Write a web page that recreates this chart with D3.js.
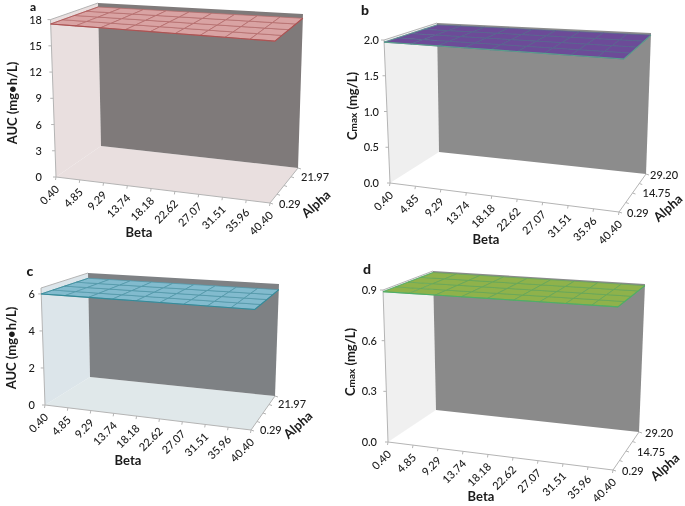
<!DOCTYPE html>
<html>
<head>
<meta charset="utf-8">
<script src="https://cdn.jsdelivr.net/npm/d3@7"></script>
<style>
html,body{margin:0;padding:0;background:#fff}
svg{display:block}
text{font-family:Lato,"Open Sans",sans-serif;fill:#1a1a1a}
</style>
</head>
<body>
<svg id="chart" width="685" height="506"></svg>
<script>
// ---- Data ----
const betaLabels = ["0.40","4.85","9.29","13.74","18.18","22.62","27.07","31.51","35.96","40.40"];
const alphaShort = ["0.29","5.71","11.13","16.55","21.97"];
const alphaLong  = ["0.29","7.52","14.75","21.97","29.20"];
const alphaShortLabels = ["0.29","21.97"];
const alphaLongLabels  = ["0.29","14.75","29.20"];
const ticksAuc18 = [0,3,6,9,12,15,18];
const ticksCmax2 = [0,0.5,1,1.5,2];
const ticksAuc6  = [0,2,4,6];
const ticksCmax09 = [0,0.3,0.6,0.9];
const surfaceA = [
 [17.5,17.5,17.5,17.5,17.5,17.5,17.5,17.5,17.5,17.5],
 [17.5,17.5,17.5,17.5,17.5,17.5,17.5,17.5,17.5,17.5],
 [17.5,17.5,17.5,17.5,17.5,17.5,17.5,17.5,17.5,17.5],
 [17.5,17.5,17.5,17.5,17.5,17.5,17.5,17.5,17.5,17.5],
 [17.5,17.5,17.5,17.5,17.5,17.5,17.5,17.5,17.5,17.5]];
const surfaceB = [
 [1.97,1.97,1.97,1.97,1.97,1.97,1.97,1.97,1.97,1.97],
 [1.97,1.97,1.97,1.97,1.97,1.97,1.97,1.97,1.97,1.97],
 [1.97,1.97,1.97,1.97,1.97,1.97,1.97,1.97,1.97,1.97],
 [1.97,1.97,1.97,1.97,1.97,1.97,1.97,1.97,1.97,1.97],
 [1.97,1.97,1.97,1.97,1.97,1.97,1.97,1.97,1.97,1.97]];
const surfaceC = [
 [6,6,6,6,6,6,6,6,6,6],
 [6,6,6,6,6,6,6,6,6,6],
 [6,6,6,6,6,6,6,6,6,6],
 [6,6,6,6,6,6,6,6,6,6],
 [6,6,6,6,6,6,6,6,6,6]];
const surfaceD = [
 [0.89,0.89,0.89,0.89,0.89,0.89,0.89,0.89,0.89,0.89],
 [0.89,0.89,0.89,0.89,0.89,0.89,0.89,0.89,0.89,0.89],
 [0.89,0.89,0.89,0.89,0.89,0.89,0.89,0.89,0.89,0.89],
 [0.89,0.89,0.89,0.89,0.89,0.89,0.89,0.89,0.89,0.89],
 [0.89,0.89,0.89,0.89,0.89,0.89,0.89,0.89,0.89,0.89]];

// ---- Layout of each panel ----
const panels = [
 {letter:"a", letterAt:[33,11], alpha:alphaShort, alphaLabels:alphaShortLabels, surface:surfaceA, ticks:ticksAuc18, zMax:18, fmt:d3.format("d"),
  floor:{fl:[56,177],fr:[270,203],br:[298,168],bl:[101,146]}, top:{fl:[50.5,19.6],fr:[275,36.5],br:[303,14],bl:[98,3]},
  tickRight:42, title:"auc", titleAt:[17,103], betaAt:[139,232], alphaAt:[316,204], alphaOff:[[9,1],[3,9]],
  side:"#e9dfdf", floorC:"#e9dfdf", wall:"#7f7a7a", fill:"#d9a3a3", grid:"#b56a6a", edge:"#ac5252"},
 {letter:"b", letterAt:[365,15], alpha:alphaLong, alphaLabels:alphaLongLabels, surface:surfaceB, ticks:ticksCmax2, zMax:2, fmt:d3.format(".1f"),
  floor:{fl:[390,183],fr:[619,212],br:[646,174],bl:[439,152]}, top:{fl:[384,40],fr:[624,56.7],br:[651,33],bl:[437,23]},
  tickRight:379, title:"cmax", titleAt:[357,106], betaAt:[486,239], alphaAt:[668,208], alphaOff:[[8,1],[10,0],[4,1]],
  side:"#efefef", floorC:"#ffffff", wall:"#8c8c8c", fill:"#6c4b98", grid:"#56688f", edge:"#5a9f8c"},
 {letter:"c", letterAt:[30,276], alpha:alphaShort, alphaLabels:alphaShortLabels, surface:surfaceC, ticks:ticksAuc6, zMax:6.32, fmt:d3.format("d"),
  floor:{fl:[45,405],fr:[251,430],br:[275,396],bl:[90,377]}, top:{fl:[41,288],fr:[255,303],br:[279,284],bl:[88,273]},
  tickRight:35, title:"auc", titleAt:[16,348], betaAt:[128,460], alphaAt:[298,425], alphaOff:[[9,0],[3,8]],
  side:"#dce5ea", floorC:"#e0e8ea", wall:"#7e8184", fill:"#82bbce", grid:"#4f97a8", edge:"#358a98"},
 {letter:"d", letterAt:[367,274], alpha:alphaLong, alphaLabels:alphaLongLabels, surface:surfaceD, ticks:ticksCmax09, zMax:0.9, fmt:d3.format(".1f"),
  floor:{fl:[388,442],fr:[613,470],br:[639,432],bl:[436,410]}, top:{fl:[383,290],fr:[618,305],br:[645,284],bl:[433,271]},
  tickRight:377, title:"cmax", titleAt:[355,362], betaAt:[481,496], alphaAt:[665,467], alphaOff:[[9,1],[11,1],[6,1]],
  side:"#f0f0f0", floorC:"#ffffff", wall:"#8a8a8a", fill:"#8fb24c", grid:"#63a85a", edge:"#4fae68"}
];

const svg = d3.select("#chart");
const defs = svg.append("defs");
defs.append("filter").attr("id","soft").attr("x","-5%").attr("y","-5%").attr("width","110%").attr("height","110%")
  .append("feGaussianBlur").attr("stdDeviation",0.5);
defs.append("filter").attr("id","softText")
  .append("feGaussianBlur").attr("stdDeviation",0.3);

const lerp = (a,b,t)=>[a[0]+(b[0]-a[0])*t, a[1]+(b[1]-a[1])*t];
const poly = d3.line();

panels.forEach(p=>{
  const beta = d3.scalePoint(betaLabels,[0,1]);
  const alpha = d3.scalePoint(p.alpha,[0,1]);
  const z = d3.scaleLinear([0,p.zMax],[0,1]);
  const at = (c,u,v)=>lerp(lerp(c.fl,c.fr,u),lerp(c.bl,c.br,u),v);
  const project = (u,v,w)=>lerp(at(p.floor,u,v),at(p.top,u,v),w);

  const g = svg.append("g");
  const art = g.append("g").attr("filter","url(#soft)");

  // floor, side wall, back wall
  art.append("path").attr("fill",p.floorC)
    .attr("d",poly([[0,0],[1,0],[1,1],[0,1]].map(c=>project(c[0],c[1],0)))+"Z");
  art.append("path").attr("fill",p.side)
    .attr("d",poly([[0,0,0],[0,1,0],[0,1,1],[0,0,1]].map(c=>project(c[0],c[1],c[2])))+"Z");
  art.append("path").attr("fill",p.wall)
    .attr("d",poly([[0,1,0],[1,1,0],[1,1,1],[0,1,1]].map(c=>project(c[0],c[1],c[2])))+"Z");

  // axis lines
  const axisLine = pts=>art.append("path").attr("fill","none").attr("stroke","#b4b4b4").attr("stroke-width",1).attr("d",poly(pts));
  axisLine([project(0,0,1),project(0,0,0),project(1,0,0),project(1,1,0)]);
  axisLine([project(0,0,1),project(0,1,1)]);

  // vertical ticks
  p.ticks.forEach(t=>{
    const q = project(0,0,z(t));
    axisLine([[q[0]-3,q[1]],q]);
  });
  // beta ticks
  betaLabels.forEach(b=>{
    const q = project(beta(b),0,0);
    axisLine([q,[q[0]-0.5,q[1]+3]]);
  });
  // alpha ticks
  p.alpha.forEach(a=>{
    const q = project(1,alpha(a),0);
    axisLine([q,[q[0]+3,q[1]+1]]);
  });

  // surface cells, drawn from the value grid
  const cells = [];
  p.surface.slice(0,-1).forEach((row,i)=>row.slice(0,-1).forEach((val,j)=>{
    const c = (jj,ii)=>project(beta(betaLabels[jj]),alpha(p.alpha[ii]),z(p.surface[ii][jj]));
    cells.push([c(j,i),c(j+1,i),c(j+1,i+1),c(j,i+1)]);
  }));
  art.append("g").selectAll("path").data(cells).join("path")
    .attr("d",d=>poly(d)+"Z").attr("fill",p.fill).attr("stroke",p.grid).attr("stroke-width",0.7);
  const lastA = p.alpha.length-1, lastB = betaLabels.length-1;
  const rim = d3.range(0,lastB+1).map(j=>project(beta(betaLabels[j]),0,z(p.surface[0][j])))
    .concat(d3.range(1,lastA+1).map(i=>project(1,alpha(p.alpha[i]),z(p.surface[i][lastB]))));
  art.append("path").attr("fill","none").attr("stroke",p.edge).attr("stroke-width",1.1).attr("d",poly(rim));
  art.append("path").attr("fill","none").attr("stroke",p.edge).attr("stroke-width",0.7)
    .attr("d",poly([project(0,0,z(p.surface[0][0])),project(0,1,z(p.surface[lastA][0]))]));

  // text
  const labels = g.append("g").attr("filter","url(#softText)");

  const yAxis = d3.axisLeft(d3.scaleLinear([0,p.zMax],[p.floor.fl[1],p.top.fl[1]]))
    .tickValues(p.ticks).tickFormat(p.fmt).tickSize(0).tickPadding(0);
  const ya = labels.append("g").attr("transform",`translate(${p.tickRight},0)`).call(yAxis);
  ya.select(".domain").remove();
  ya.selectAll("text").attr("font-size",11).attr("font-family","Lato").attr("font-weight",500);

  betaLabels.forEach(b=>{
    const q = project(beta(b),0,0);
    labels.append("text").text(b).attr("font-size",11).attr("font-weight",500).attr("text-anchor","end")
      .attr("transform",`translate(${q[0]+4},${q[1]+13}) rotate(-45)`);
  });
  p.alphaLabels.forEach((a,i)=>{
    const q = project(1,alpha(a),0);
    labels.append("text").text(a).attr("font-size",11).attr("font-weight",500).attr("dy","0.35em")
      .attr("x",q[0]+p.alphaOff[i][0]).attr("y",q[1]+p.alphaOff[i][1]);
  });

  labels.append("text").text("Beta").attr("font-size",13).attr("font-weight",700).attr("text-anchor","middle")
    .attr("dy","0.35em").attr("x",p.betaAt[0]).attr("y",p.betaAt[1]);
  labels.append("text").text("Alpha").attr("font-size",13).attr("font-weight",700).attr("text-anchor","middle")
    .attr("dy","0.35em").attr("transform",`translate(${p.alphaAt[0]},${p.alphaAt[1]}) rotate(-42)`);
  labels.append("text").text(p.letter).attr("font-size",p.letter==="a"?12:14).attr("font-weight",900)
    .attr("text-anchor","middle").attr("x",p.letterAt[0]).attr("y",p.letterAt[1]);

  const yt = labels.append("text").attr("font-size",13).attr("font-weight",700).attr("text-anchor","middle")
    .attr("transform",`translate(${p.titleAt[0]},${p.titleAt[1]}) rotate(-90)`);
  if(p.title==="auc"){
    yt.text("AUC (mg•h/L)");
  } else {
    yt.append("tspan").text("C");
    yt.append("tspan").text("max").attr("font-size",10);
    yt.append("tspan").text(" (mg/L)");
  }
});
</script>
</body>
</html>
